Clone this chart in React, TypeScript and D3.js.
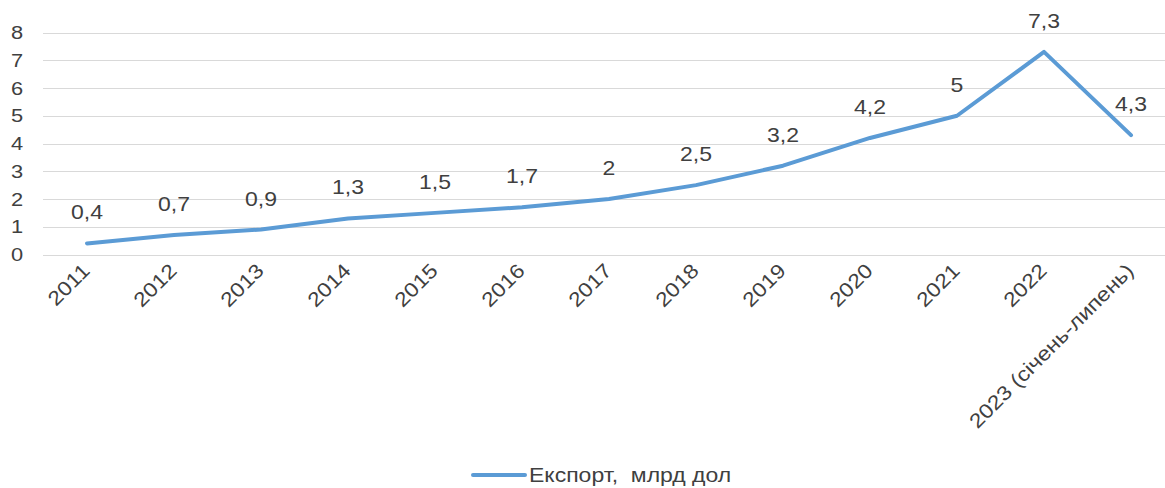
import React, { useEffect, useRef } from 'react';
import * as d3 from 'd3';

const years = ['2011', '2012', '2013', '2014', '2015', '2016', '2017', '2018', '2019', '2020', '2021', '2022', '2023 (січень-липень)'];
const exportValues = [0.4, 0.7, 0.9, 1.3, 1.5, 1.7, 2, 2.5, 3.2, 4.2, 5, 7.3, 4.3];
const yTicks = [0, 1, 2, 3, 4, 5, 6, 7, 8];
const seriesName = 'Експорт,  млрд дол';

const width = 1165;
const height = 488;

const App: React.FC = () => {
  const svgRef = useRef<SVGSVGElement>(null);

  useEffect(() => {
    if (!svgRef.current) return;
    const svg = d3.select(svgRef.current);
    svg.selectAll('*').remove();

    const font = '"Liberation Sans", Arial, sans-serif';
    const fs = 20;
    const sx = 1.15; // reference glyphs are a bit wider than Arial

    const x = d3.scaleBand().domain(years).range([43.5, 1174.5]);
    const y = d3.scaleLinear().domain([0, 8]).range([254.5, 32.5]);
    const cx = (d: string) => (x(d) || 0) + x.bandwidth() / 2;

    // gridlines
    svg.append('g')
      .selectAll('line')
      .data(yTicks)
      .enter()
      .append('line')
      .attr('x1', 43)
      .attr('x2', width)
      .attr('y1', d => Math.round(y(d)) + 0.5)
      .attr('y2', d => Math.round(y(d)) + 0.5)
      .attr('stroke', '#d9d9d9')
      .attr('stroke-width', 1);

    // y tick labels
    svg.append('g')
      .selectAll('text')
      .data(yTicks)
      .enter()
      .append('text')
      .attr('transform', d => `translate(17,${y(d)}) scale(${sx},1)`)
      .attr('dy', '0.35em')
      .attr('text-anchor', 'middle')
      .attr('font-family', font)
      .attr('font-size', fs - 1)
      .attr('fill', '#404040')
      .text(d => String(d));

    // x labels rotated
    svg.append('g')
      .selectAll('text')
      .data(years)
      .enter()
      .append('text')
      .attr('transform', d => `translate(${cx(d) + 4},${272}) rotate(-45) scale(${sx},1)`)
      .attr('text-anchor', 'end')
      .attr('font-family', font)
      .attr('font-size', fs)
      .attr('fill', '#404040')
      .text(d => d);

    // line
    const line = d3.line<number>()
      .x((_, i) => cx(years[i]))
      .y(d => y(d));

    svg.append('path')
      .datum(exportValues)
      .attr('d', line)
      .attr('fill', 'none')
      .attr('stroke', '#5b9bd5')
      .attr('stroke-width', 4)
      .attr('stroke-linejoin', 'round')
      .attr('stroke-linecap', 'round');

    // value labels
    svg.append('g')
      .selectAll('text')
      .data(exportValues)
      .enter()
      .append('text')
      .attr('transform', (d, i) => `translate(${cx(years[i])},${y(d) - 24}) scale(${sx},1)`)
      .attr('text-anchor', 'middle')
      .attr('font-family', font)
      .attr('font-size', fs)
      .attr('fill', '#404040')
      .text(d => String(d).replace('.', ','));

    // legend
    const legend = svg.append('g').attr('transform', 'translate(473,475)');
    legend.append('line')
      .attr('x1', 0)
      .attr('x2', 52)
      .attr('y1', 0)
      .attr('y2', 0)
      .attr('stroke', '#5b9bd5')
      .attr('stroke-width', 4)
      .attr('stroke-linecap', 'round');
    legend.append('text')
      .attr('transform', `translate(56,0) scale(${sx},1)`)
      .attr('dy', '0.35em')
      .attr('font-family', font)
      .attr('font-size', fs)
      .attr('fill', '#404040')
      .style('white-space', 'pre')
      .text(seriesName);
  }, []);

  return (
    <svg
      ref={svgRef}
      width={width}
      height={height}
      style={{ position: 'absolute', left: 0, top: 0, background: '#fff' }}
    />
  );
};

export default App;
